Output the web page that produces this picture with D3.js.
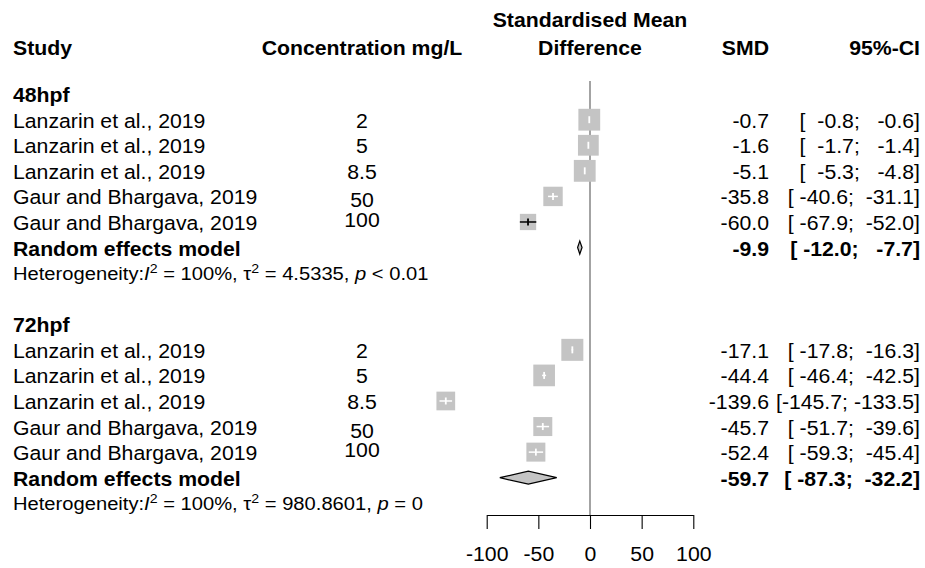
<!DOCTYPE html>
<html>
<head>
<meta charset="utf-8">
<script src="https://cdn.jsdelivr.net/npm/d3@7"></script>
<style>
  html, body { margin: 0; padding: 0; background: #fff; }
  svg text { font-family: "Liberation Sans", Arial, sans-serif; white-space: pre; fill: #000; }
</style>
</head>
<body>
<svg id="chart" width="925" height="568"></svg>
<script>
// Subgroups and studies
const groups = ["48hpf", "72hpf"];
const studies = [
  "Lanzarin et al., 2019",
  "Lanzarin et al., 2019",
  "Lanzarin et al., 2019",
  "Gaur and Bhargava, 2019",
  "Gaur and Bhargava, 2019"
];
const concentrations = ["2", "5", "8.5", "50", "100"];

// Standardised mean differences with 95% confidence limits
const smd48   = [-0.7, -1.6, -5.1, -35.8, -60.0];
const lower48 = [-0.8, -1.7, -5.3, -40.6, -67.9];
const upper48 = [-0.6, -1.4, -4.8, -31.1, -52.0];
const weight48 = [23.5, 21.3, 23.5, 18.6, 13.1];

const smd72   = [-17.1, -44.4, -139.6, -45.7, -52.4];
const lower72 = [-17.8, -46.4, -145.7, -51.7, -59.3];
const upper72 = [-16.3, -42.5, -133.5, -39.6, -45.4];
const weight72 = [23.9, 23.2, 17.3, 17.8, 17.8];

// Random effects model per subgroup
const pooledSmd   = [-9.9, -59.7];
const pooledLower = [-12.0, -87.3];
const pooledUpper = [-7.7, -32.2];

// Heterogeneity statistics per subgroup
const i2   = ["100%", "100%"];
const tau2 = ["4.5335", "980.8601"];
const pval = ["< 0.01", "= 0"];

const axisTicks = [-100, -50, 0, 50, 100];

// ---- layout ----
const FS = 19.5;          // base font size
const FS_HET = 18.5;      // heterogeneity line
const SX = 1.09;          // horizontal glyph stretch
const COL_STUDY = 13, COL_CONC = 362, COL_SMD = 769, COL_CI = 920;
const BASE_DY = 8;        // text baseline below row centre
const CONC_DY = [0, 0, 0, 3, -3];

const svg = d3.select("#chart");
const x = d3.scaleLinear().domain([-100, 100]).range([486.7, 693.3]);
const y = d3.scaleLinear().domain([1, 15]).range([119.7, 477.7]);
const boxSide = d3.scaleSqrt().domain([0, 23.9]).range([0, 22]);
const axisY = 515;

function label(px, py, str, opts = {}) {
  const t = svg.append("text")
    .attr("transform", `translate(${px},${py}) scale(${SX},1)`)
    .attr("text-anchor", opts.anchor || "start")
    .style("font-size", (opts.size || FS) + "px")
    .style("font-weight", opts.bold ? "bold" : "normal")
    .text(str);
  return t;
}

// column headers
label(COL_STUDY, 55, "Study", { bold: true });
label(COL_CONC, 55, "Concentration mg/L", { bold: true, anchor: "middle" });
label(x(0), 27, "Standardised Mean", { bold: true, anchor: "middle" });
label(x(0), 55, "Difference", { bold: true, anchor: "middle" });
label(COL_SMD, 55, "SMD", { bold: true, anchor: "end" });
label(COL_CI, 55, "95%-CI", { bold: true, anchor: "end" });

// reference line at zero
svg.append("line")
  .attr("x1", x(0)).attr("x2", x(0))
  .attr("y1", 81).attr("y2", axisY)
  .attr("stroke", "#666").attr("stroke-width", 1.2);

// confidence interval text, padded like R's format()
const allLower = lower48.concat(lower72, pooledLower).map(v => v.toFixed(1));
const allUpper = upper48.concat(upper72, pooledUpper).map(v => v.toFixed(1));
const wLo = d3.max(allLower, s => s.length);
const wHi = d3.max(allUpper, s => s.length);
const ciText = (lo, hi) => `[${lo.toFixed(1).padStart(wLo)}; ${hi.toFixed(1).padStart(wHi)}]`;

const groupData = [
  { smd: smd48, lo: lower48, hi: upper48, w: weight48 },
  { smd: smd72, lo: lower72, hi: upper72, w: weight72 }
];

groups.forEach((gname, gi) => {
  const r0 = gi * 9; // header row index
  const d = groupData[gi];
  label(COL_STUDY, y(r0) + BASE_DY, gname, { bold: true });

  studies.forEach((s, i) => {
    const row = r0 + 1 + i;
    const cy = y(row);
    label(COL_STUDY, cy + BASE_DY, s);
    label(COL_CONC, cy + BASE_DY + CONC_DY[i], concentrations[i], { anchor: "middle" });
    label(COL_SMD, cy + BASE_DY, d.smd[i].toFixed(1), { anchor: "end" });
    label(COL_CI, cy + BASE_DY, ciText(d.lo[i], d.hi[i]), { anchor: "end" });

    const side = boxSide(d.w[i]);
    const cx = x(d.smd[i]);
    svg.append("rect")
      .attr("x", cx - side / 2).attr("y", cy - side / 2)
      .attr("width", side).attr("height", side)
      .attr("fill", "#c4c4c4");
    const inside = x(d.lo[i]) >= cx - side / 2 && x(d.hi[i]) <= cx + side / 2;
    const col = inside ? "#fff" : "#000";
    svg.append("line")
      .attr("x1", x(d.lo[i])).attr("x2", x(d.hi[i]))
      .attr("y1", cy).attr("y2", cy)
      .attr("stroke", col).attr("stroke-width", 1.5);
    svg.append("line")
      .attr("x1", cx).attr("x2", cx)
      .attr("y1", cy - 3.5).attr("y2", cy + 3.5)
      .attr("stroke", col).attr("stroke-width", 1.8);
  });

  // pooled estimate
  const prow = r0 + 6;
  const py = y(prow);
  label(COL_STUDY, py + BASE_DY, "Random effects model", { bold: true });
  label(COL_SMD, py + BASE_DY, pooledSmd[gi].toFixed(1), { anchor: "end", bold: true });
  label(COL_CI, py + BASE_DY, ciText(pooledLower[gi], pooledUpper[gi]), { anchor: "end", bold: true });
  const h = 6.5;
  svg.append("path")
    .attr("d", `M${x(pooledLower[gi])},${py} L${x(pooledSmd[gi])},${py - h} L${x(pooledUpper[gi])},${py} L${x(pooledSmd[gi])},${py + h} Z`)
    .attr("fill", "#c4c4c4").attr("stroke", "#000").attr("stroke-width", 1.2);

  // heterogeneity line
  const hy = y(r0 + 7) + 6.5;
  const t = svg.append("text")
    .attr("transform", `translate(${COL_STUDY},${hy}) scale(${SX},1)`)
    .style("font-size", FS_HET + "px");
  t.append("tspan").text("Heterogeneity:");
  t.append("tspan").style("font-style", "italic").text("I");
  t.append("tspan").attr("dy", -7).style("font-size", "13px").text("2");
  t.append("tspan").attr("dy", 7).text(` = ${i2[gi]}, \u03c4`);
  t.append("tspan").attr("dy", -7).style("font-size", "13px").text("2");
  t.append("tspan").attr("dy", 7).text(` = ${tau2[gi]}, `);
  t.append("tspan").style("font-style", "italic").text("p");
  t.append("tspan").text(` ${pval[gi]}`);
});

// x axis
const axis = d3.axisBottom(x)
  .tickValues(axisTicks)
  .tickFormat(d => String(d))
  .tickSize(14)
  .tickSizeOuter(0)
  .tickPadding(18);
const ax = svg.append("g").attr("transform", `translate(0,${axisY})`).call(axis);
ax.select(".domain").attr("stroke", "#000").attr("stroke-width", 1.1);
ax.selectAll(".tick line").attr("stroke", "#000").attr("stroke-width", 1.1);
ax.selectAll(".tick text")
  .attr("transform", `scale(${SX},1)`)
  .style("font-size", FS + "px")
  .style("font-family", "'Liberation Sans', Arial, sans-serif")
  .attr("fill", "#000");
</script>
</body>
</html>
